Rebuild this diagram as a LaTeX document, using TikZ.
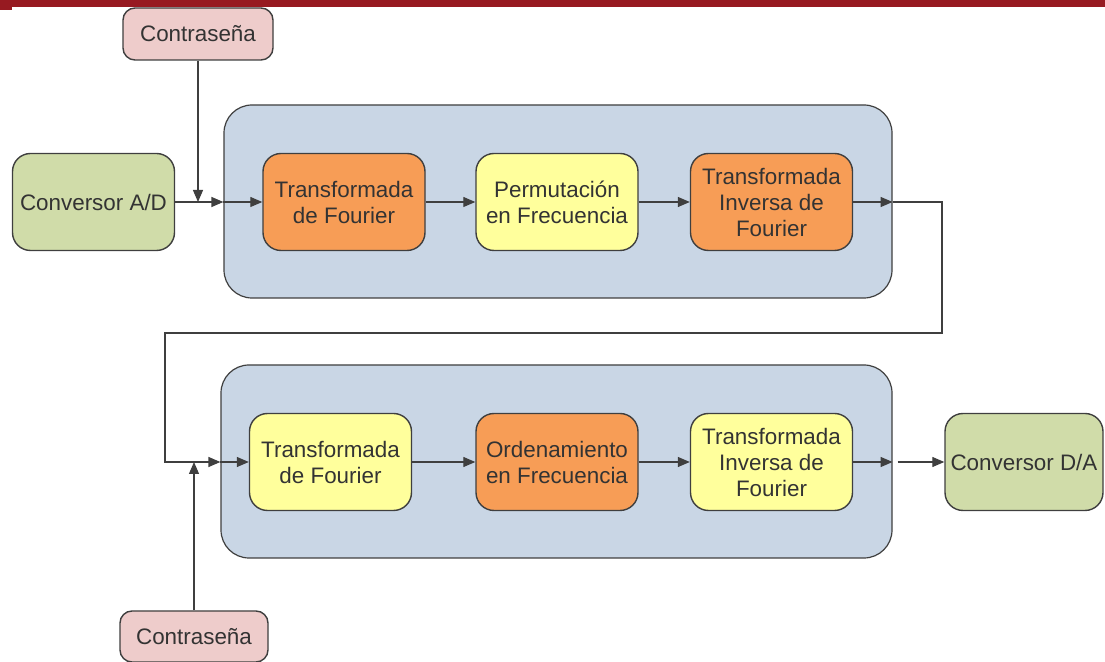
\documentclass[tikz,border=0pt]{standalone}
\usepackage{fontspec}
\setmainfont{Liberation Sans}
\usetikzlibrary{arrows.meta}

\definecolor{barred}{HTML}{971A21}
\definecolor{linegray}{HTML}{3F3F3F}
\definecolor{textgray}{HTML}{333333}
\definecolor{panelblue}{HTML}{C9D6E5}
\definecolor{boxorange}{HTML}{F79D56}
\definecolor{boxyellow}{HTML}{FFFF9C}
\definecolor{boxgreen}{HTML}{D0DCA9}
\definecolor{boxpink}{HTML}{EECCCB}

\tikzset{
	block/.style={draw=linegray, line width=0.7pt, rounded corners=9pt, align=center,
		text=textgray, inner sep=1pt, font=\fontsize{11.2}{13}\selectfont,
		minimum width=81pt, minimum height=48.5pt},
	orangebox/.style={block, fill=boxorange},
	yellowbox/.style={block, fill=boxyellow},
	greenbox/.style={block, fill=boxgreen},
	keybox/.style={block, fill=boxpink, minimum width=75pt, minimum height=26pt, rounded corners=6pt},
	panel/.style={draw=linegray, line width=0.6pt, fill=panelblue, rounded corners=14pt,
		minimum width=334pt, minimum height=96.5pt},
	arr/.style={draw=linegray, line width=0.6pt, -{Triangle[length=6pt,width=5pt]}},
	wire/.style={draw=linegray, line width=0.6pt}
}

\begin{document}
\begin{tikzpicture}[x=0.5pt,y=-0.5pt]
	\useasboundingbox (0,0) rectangle (1105,662);

	%header bar
	\fill[barred] (0,0) rectangle (1105,7);
	\fill[barred] (0,7) rectangle (12,10);

	%panels
	\node[panel] (top) at (558,201.5) {};
	\node[panel, minimum width=335.5pt] (bot) at (556.5,461.5) {};

	%blocks
	\node[keybox] (pw1) at (198,34) {Contraseña};
	\node[greenbox] (ad) at (93.5,202) {Conversor A/D};
	\node[orangebox] (tf1) at (344,202) {Transformada\\de Fourier};
	\node[yellowbox] (pf) at (557,202) {Permutación\\en Frecuencia};
	\node[orangebox] (it1) at (771.5,202) {Transformada\\Inversa de\\Fourier};

	\node[yellowbox] (tf2) at (330.5,462) {Transformada\\de Fourier};
	\node[orangebox] (of) at (557,462) {Ordenamiento\\en Frecuencia};
	\node[yellowbox] (it2) at (771.5,462) {Transformada\\Inversa de\\Fourier};
	\node[greenbox, minimum width=79pt] (da) at (1024,462) {Conversor D/A};
	\node[keybox, minimum width=74pt, minimum height=25.5pt] (pw2) at (194,636.5) {Contraseña};

	\coordinate (c1) at (942,333);
	\coordinate (c2) at (165,333);

	%signal path, upper row
	\draw[arr] (ad) -- (ad -| top.west);
	\draw[arr] (pw1) -- (pw1 |- ad);
	\draw[arr] (tf1 -| top.west) -- (tf1);
	\draw[arr] (tf1) -- (pf);
	\draw[arr] (pf) -- (it1);
	\draw[arr] (it1) -- (it1 -| top.east);

	%loop back
	\draw[arr] (it1 -| top.east) -| (c1) -- (c2) |- (tf2 -| bot.west);

	%signal path, lower row
	\draw[arr] (pw2) -- (pw2 |- tf2);
	\draw[arr] (tf2 -| bot.west) -- (tf2);
	\draw[arr] (tf2) -- (of);
	\draw[arr] (of) -- (it2);
	\draw[arr] (it2) -- (it2 -| bot.east);
	\draw[arr] ([xshift=2.5pt]it2 -| bot.east) -- (da);
\end{tikzpicture}
\end{document}
